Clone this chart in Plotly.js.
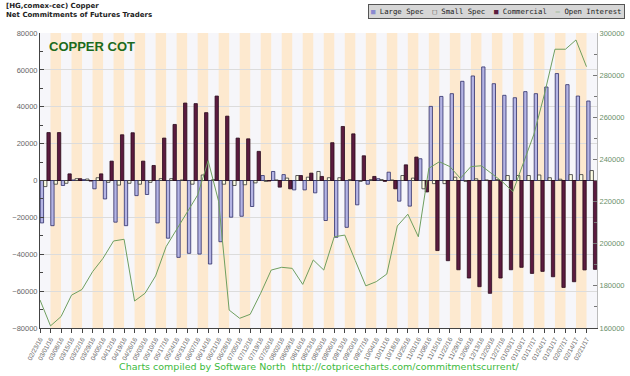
<!DOCTYPE html>
<html>
<head>
<meta charset="utf-8">
<script src="https://cdn.plot.ly/plotly-3.0.1.min.js"></script>
<style>
html,body{margin:0;padding:0;background:#fff;}
#chart{width:630px;height:376px;}
</style>
</head>
<body>
<div id="chart"></div>
<script>
const dates = ["02/23/16","03/01/16","03/08/16","03/15/16","03/22/16","03/29/16","04/05/16","04/12/16","04/19/16","04/26/16",
"05/03/16","05/10/16","05/17/16","05/24/16","05/31/16","06/07/16","06/14/16","06/21/16","06/28/16","07/05/16",
"07/12/16","07/19/16","07/26/16","08/02/16","08/09/16","08/16/16","08/23/16","08/30/16","09/06/16","09/13/16",
"09/20/16","09/27/16","10/04/16","10/11/16","10/18/16","10/25/16","11/01/16","11/08/16","11/15/16","11/22/16",
"11/29/16","12/06/16","12/13/16","12/20/16","12/27/16","01/03/17","01/10/17","01/17/17","01/24/17","01/31/17",
"02/07/17","02/14/17","02/21/17"];

const largeSpec = [-23000,-24500,-2700,300,500,-4500,-10000,-22600,-24500,-8200,
-7600,-23000,-31300,-41700,-39500,-39900,-45300,-33200,-19900,-19400,
-14100,2700,4900,3200,-5100,-5100,-6700,-21700,-30800,-25400,
-13200,-2000,1000,4500,-11200,-13900,11800,40200,45600,47100,
53800,56700,61600,52500,46200,44900,48200,47100,50700,58000,
52000,45800,43100];

const smallSpec = [-3300,-2000,-1500,1000,800,1500,-1000,-2500,-1500,-2000,
-1000,1000,1000,300,-2000,3000,500,-2000,-2700,-2300,
-1300,-500,300,1300,2700,1800,4900,1500,1500,500,
-500,500,500,300,2700,1300,-4500,-1700,-1700,1800,
-500,900,300,500,2700,2700,2700,3000,1500,700,
3200,3200,5400];

const commercial = [26000,26000,3600,1000,-300,3600,10500,24800,25900,10500,
8150,23000,30400,42000,41700,36800,45800,34900,23000,22600,
15800,-300,-3600,-4500,2700,4000,2200,20500,29300,25300,
13400,2200,-500,-4500,8500,12700,-6200,-38000,-43500,-48400,
-52900,-57600,-61200,-52900,-48400,-47100,-50400,-49300,-52200,-58000,
-54900,-48500,-48200];

const openInterest = [173300,161000,165400,175600,178300,186700,193100,201300,202100,172800,
176500,184700,198600,206800,214400,223100,239400,220000,168500,164600,
166500,176500,187500,188800,188300,180700,192300,187500,203300,204100,
192000,180000,182000,185600,208400,214000,203300,235800,238900,236600,
231000,236600,237000,233400,229400,224700,238000,252000,271000,292300,
292300,296700,284000];

const idx = dates.map((d, i) => i);
const barX = idx.map(i => i + 0.5);

const traces = [
  {type:'bar', name:'Large Spec', x:barX, y:largeSpec,
   marker:{color:'#b4b4e4', line:{color:'#2e2e6a', width:0.8}}},
  {type:'bar', name:'Small Spec', x:barX, y:smallSpec,
   marker:{color:'#ffffe6', line:{color:'#333333', width:0.8}}},
  {type:'bar', name:'Commercial', x:barX, y:commercial,
   marker:{color:'#5b1b3f', line:{color:'#2a0a1c', width:0.8}}},
  {type:'scatter', mode:'lines', name:'Open Interest', x:idx, y:openInterest, yaxis:'y2',
   line:{color:'#6f9f5f', width:1}}
];

const shapes = [];
idx.forEach(i => {
  if (i % 2 === 1) {
    shapes.push({type:'rect', xref:'x', yref:'paper', x0:i, x1:i+1, y0:0, y1:1,
      fillcolor:'#fde9cf', line:{width:0}, layer:'below'});
  }
});

const legendText =
  '<span style="color:#8a8ad0">■</span> Large Spec  ' +
  '<span style="color:#555">□</span> Small Spec  ' +
  '<span style="color:#5b1b3f">■</span> Commercial  ' +
  '<span style="color:#6f9f5f">–</span> Open Interest';

const layout = {
  width:630, height:376,
  margin:{l:40, r:33, t:33, b:48},
  paper_bgcolor:'#ffffff',
  plot_bgcolor:'#f6f6fa',
  barmode:'group', bargap:0.05, bargroupgap:0,
  showlegend:false,
  font:{family:'Liberation Sans, Arial, sans-serif', size:8, color:'#555'},
  xaxis:{range:[0,53], tickmode:'array', tickvals:idx, ticktext:dates, tickangle:-62,
    ticks:'outside', ticklen:4, tickcolor:'#444', showgrid:false, zeroline:false,
    showline:true, linecolor:'#444', linewidth:1,
    tickfont:{size:6.4, color:'#666'}},
  yaxis:{range:[-80000,80000], dtick:20000, tickformat:'d', ticks:'inside', ticklen:4,
    tickcolor:'#444', showline:true, linecolor:'#444', linewidth:1,
    gridcolor:'#dcdcdc', gridwidth:1, zeroline:true, zerolinecolor:'#222', zerolinewidth:1,
    minor:{dtick:10000, ticks:'inside', ticklen:3, tickcolor:'#444', showgrid:false},
    tickfont:{size:7.5, color:'#666'}},
  yaxis2:{range:[160000,300000], dtick:20000, tickformat:'d', overlaying:'y', side:'right',
    ticks:'inside', ticklen:4, tickcolor:'#777', showgrid:false, zeroline:false,
    showline:true, linecolor:'#bbb',
    minor:{dtick:10000, ticks:'inside', ticklen:3, tickcolor:'#777', showgrid:false},
    tickfont:{size:7.5, color:'#6a8f6a'}},
  shapes:shapes,
  annotations:[
    {xref:'paper', yref:'paper', x:-0.065, y:1.112, xanchor:'left', yanchor:'top', align:'left',
     showarrow:false, text:'<b>[HG,comex-cec) Copper<br>Net Commitments of Futures Traders</b>',
     font:{family:'DejaVu Sans, sans-serif', size:7, color:'#222'}},
    {xref:'paper', yref:'paper', x:0.012, y:0.985, xanchor:'left', yanchor:'top',
     showarrow:false, text:'<b>COPPER COT</b>',
     font:{family:'Liberation Sans, Arial, sans-serif', size:13, color:'#1c6b1c'}},
    {xref:'paper', yref:'paper', x:1.05, y:1.097, xanchor:'right', yanchor:'top',
     showarrow:false, text:legendText, bgcolor:'#d6d6d6', bordercolor:'#555', borderwidth:1, borderpad:2,
     font:{family:'DejaVu Sans Mono, monospace', size:7.3, color:'#222'}},
    {xref:'paper', yref:'paper', x:0.5, y:-0.131, xanchor:'center', yanchor:'middle',
     showarrow:false, text:'Charts compiled by Software North  http://cotpricecharts.com/commitmentscurrent/',
     font:{family:'DejaVu Sans, sans-serif', size:9.5, color:'#3cba3c'}}
  ]
};

Plotly.newPlot('chart', traces, layout, {displayModeBar:false, staticPlot:true});
</script>
</body>
</html>
